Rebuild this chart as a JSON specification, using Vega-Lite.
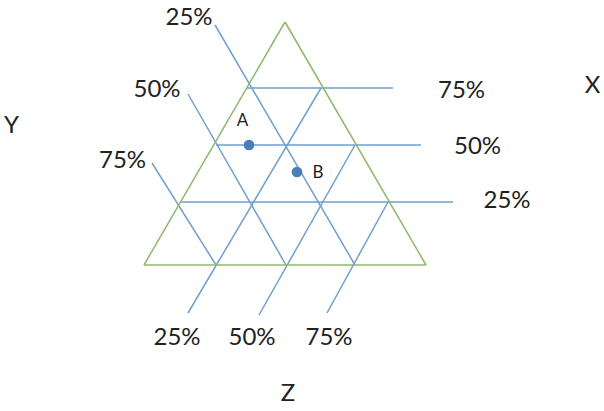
{
  "$schema": "https://vega.github.io/schema/vega-lite/v6.json",
  "width": 604,
  "height": 411,
  "autosize": {"type": "fit", "contains": "padding"},
  "padding": 0,
  "background": "white",
  "config": {"view": {"stroke": null}},
  "datasets": {
    "frame": [
      {"x": 144, "y": 265, "x2": 426, "y2": 265},
      {"x": 144, "y": 265, "x2": 285, "y2": 22},
      {"x": 285, "y": 22, "x2": 426, "y2": 265}
    ],
    "grid": [
      {"family": "X", "x": 247, "y": 88, "x2": 393, "y2": 88},
      {"family": "X", "x": 216, "y": 145, "x2": 421, "y2": 145},
      {"family": "X", "x": 180, "y": 202, "x2": 453, "y2": 202},
      {"family": "Y", "x": 215, "y": 25, "x2": 355, "y2": 265},
      {"family": "Y", "x": 188, "y": 94, "x2": 286, "y2": 265},
      {"family": "Y", "x": 152, "y": 163, "x2": 216, "y2": 265},
      {"family": "Z", "x": 188, "y": 313, "x2": 321, "y2": 88},
      {"family": "Z", "x": 259, "y": 315, "x2": 355, "y2": 145},
      {"family": "Z", "x": 327, "y": 313, "x2": 388, "y2": 202}
    ],
    "labels": [
      {"x": 189, "y": 18, "text": "25%"},
      {"x": 157, "y": 90, "text": "50%"},
      {"x": 122.5, "y": 161, "text": "75%"},
      {"x": 461.5, "y": 91, "text": "75%"},
      {"x": 477.5, "y": 147, "text": "50%"},
      {"x": 507, "y": 201, "text": "25%"},
      {"x": 177, "y": 338, "text": "25%"},
      {"x": 252, "y": 338, "text": "50%"},
      {"x": 329, "y": 338, "text": "75%"},
      {"x": 592.5, "y": 86, "text": "X"},
      {"x": 11.5, "y": 126, "text": "Y"},
      {"x": 288, "y": 394, "text": "Z"}
    ],
    "points": [
      {"x": 249, "y": 145, "name": "A", "lx": 242.5, "ly": 121},
      {"x": 297, "y": 172, "name": "B", "lx": 318, "ly": 172.5}
    ]
  },
  "layer": [
    {
      "data": {"name": "grid"},
      "mark": {"type": "rule", "color": "#6f9fcf", "strokeWidth": 1.5},
      "encoding": {
        "x": {"field": "x", "type": "quantitative", "scale": {"domain": [0, 604], "nice": false, "zero": false}, "axis": null},
        "y": {"field": "y", "type": "quantitative", "scale": {"domain": [0, 411], "nice": false, "zero": false, "reverse": true}, "axis": null},
        "x2": {"field": "x2"},
        "y2": {"field": "y2"}
      }
    },
    {
      "data": {"name": "frame"},
      "mark": {"type": "rule", "color": "#8fb86a", "strokeWidth": 1.5},
      "encoding": {
        "x": {"field": "x", "type": "quantitative"},
        "y": {"field": "y", "type": "quantitative"},
        "x2": {"field": "x2"},
        "y2": {"field": "y2"}
      }
    },
    {
      "data": {"name": "points"},
      "mark": {"type": "circle", "color": "#4a7ebb", "opacity": 1, "size": 115},
      "encoding": {
        "x": {"field": "x", "type": "quantitative"},
        "y": {"field": "y", "type": "quantitative"}
      }
    },
    {
      "data": {"name": "points"},
      "mark": {"type": "text", "font": "Lato", "fontSize": 17, "color": "#1e1e1e", "align": "center", "baseline": "middle"},
      "encoding": {
        "x": {"field": "lx", "type": "quantitative"},
        "y": {"field": "ly", "type": "quantitative"},
        "text": {"field": "name"}
      }
    },
    {
      "data": {"name": "labels"},
      "mark": {"type": "text", "font": "Lato", "fontSize": 24, "color": "#222222", "align": "center", "baseline": "middle"},
      "encoding": {
        "x": {"field": "x", "type": "quantitative"},
        "y": {"field": "y", "type": "quantitative"},
        "text": {"field": "text"}
      }
    }
  ]
}
